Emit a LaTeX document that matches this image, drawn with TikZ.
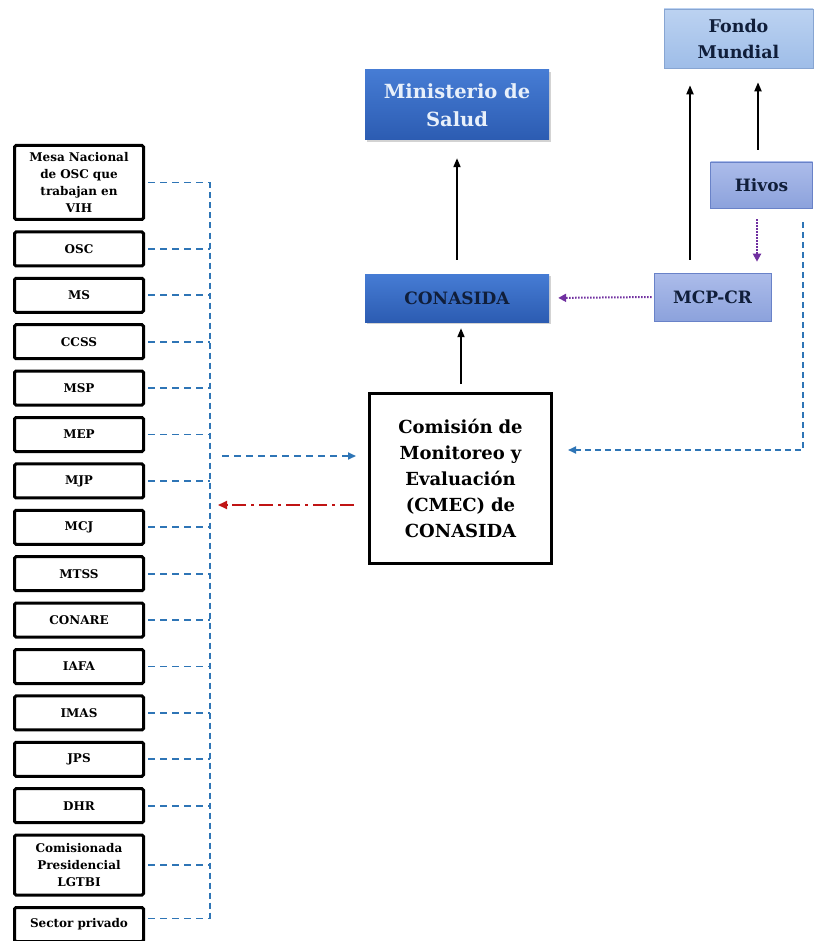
\documentclass[tikz,border=0pt]{standalone}
\usepackage{fontspec}
\setmainfont{DejaVu Serif}
\usetikzlibrary{arrows.meta,positioning,shadows}
\definecolor{minblueA}{RGB}{70,124,212}
\definecolor{minblueB}{RGB}{44,92,178}
\definecolor{fondoA}{RGB}{188,210,241}
\definecolor{fondoB}{RGB}{158,189,232}
\definecolor{fondoline}{RGB}{135,165,210}
\definecolor{mcpA}{RGB}{172,188,234}
\definecolor{mcpB}{RGB}{140,162,220}
\definecolor{mcpline}{RGB}{105,130,200}
\definecolor{lnblue}{RGB}{46,117,182}
\definecolor{lnred}{RGB}{192,20,20}
\definecolor{lnpurple}{RGB}{112,48,160}
\definecolor{navytext}{RGB}{16,30,58}
\definecolor{lighttext}{RGB}{232,240,250}

\begin{document}
\begin{tikzpicture}[x=1pt, y=1pt,
    orgbox/.style={rectangle, draw=black, line width=3pt, rounded corners=1.5pt, fill=white,
        minimum width=129pt, minimum height=34pt, text width=122pt, align=center, inner sep=1pt,
        font=\fontsize{12}{17}\selectfont\bfseries},
    darkbox/.style={rectangle, top color=minblueA, bottom color=minblueB, minimum width=184pt,
        align=center, inner sep=2pt,
        drop shadow={opacity=0.35, shadow xshift=1.5pt, shadow yshift=-2pt}},
    fondobox/.style={rectangle, top color=fondoA, bottom color=fondoB, draw=fondoline, line width=0.6pt,
        align=center, inner sep=2pt, text=navytext, font=\fontsize{17.5}{26}\selectfont\bfseries},
    mcpbox/.style={rectangle, top color=mcpA, bottom color=mcpB, draw=mcpline, line width=0.6pt,
        align=center, inner sep=2pt, text=navytext, font=\fontsize{17}{20}\selectfont\bfseries},
    arr/.style={-{Triangle[length=9pt,width=7pt]}, line width=1.8pt},
    bdash/.style={draw=lnblue, line width=1.8pt, dash pattern=on 7pt off 5pt},
    barr/.style={bdash, -{Triangle[length=8pt,width=7pt]}},
    rarr/.style={draw=lnred, line width=1.8pt, dash pattern=on 14pt off 5pt on 3pt off 5pt,
        -{Triangle[length=9pt,width=8pt]}},
    parr/.style={draw=lnpurple, line width=2pt, dash pattern=on 1.5pt off 1.5pt,
        -{Triangle[length=8pt,width=8pt]}},
    node distance=9.4pt
]
\useasboundingbox (0,0) rectangle (814,-941);

% organisations on the left
\node[orgbox, minimum height=74pt] (mesa) at (79,-182.5) {Mesa Nacional\\de OSC que\\trabajan en\\VIH};
\node[orgbox, below=of mesa] (osc) {OSC};
\node[orgbox, below=of osc] (ms) {MS};
\node[orgbox, below=of ms] (ccss) {CCSS};
\node[orgbox, below=of ccss] (msp) {MSP};
\node[orgbox, below=of msp] (mep) {MEP};
\node[orgbox, below=of mep] (mjp) {MJP};
\node[orgbox, below=of mjp] (mcj) {MCJ};
\node[orgbox, below=of mcj] (mtss) {MTSS};
\node[orgbox, below=of mtss] (conare) {CONARE};
\node[orgbox, below=of conare] (iafa) {IAFA};
\node[orgbox, below=of iafa] (imas) {IMAS};
\node[orgbox, below=of imas] (jps) {JPS};
\node[orgbox, below=of jps] (dhr) {DHR};
\node[orgbox, minimum height=60pt, below=of dhr] (lgtbi) {Comisionada\\Presidencial\\LGTBI};
\node[orgbox, below=of lgtbi] (privado) {Sector privado};
\coordinate (bus) at (210,0);

% central column
\node[darkbox, minimum height=70pt, text=lighttext, font=\fontsize{19.5}{28}\selectfont\bfseries]
    (minsa) at (457,-105) {Ministerio de\\Salud};
\node[darkbox, minimum height=48pt, text=navytext, font=\fontsize{17}{20}\selectfont\bfseries]
    (conasida) at (457,-298) {CONASIDA};
\node[rectangle, draw=black, line width=3pt, fill=white, minimum width=182pt, minimum height=170pt,
    text width=165pt, align=center, font=\fontsize{18}{26}\selectfont\bfseries]
    (cmec) at (460.5,-478.5) {Comisión de\\Monitoreo y\\Evaluación\\(CMEC) de\\CONASIDA};

% right column
\node[fondobox, minimum width=149pt, minimum height=59pt] (fondo) at (738.5,-38.5) {Fondo\\Mundial};
\node[mcpbox, minimum width=102pt, minimum height=46pt] (hivos) at (761.5,-185) {Hivos};
\node[mcpbox, minimum width=117pt, minimum height=48pt] (mcp) at (712.5,-297) {MCP-CR};

% solid arrows
\draw[arr, shorten <=8pt, shorten >=6pt] ([xshift=0.5pt]cmec.north) -- ([xshift=4pt]conasida.south);
\draw[arr, shorten <=14pt, shorten >=18pt] (conasida.north) -- (minsa.south);
\draw[arr, shorten <=13pt, shorten >=17pt] ([xshift=-22.5pt]mcp.north) -- ([xshift=-22.5pt]mcp.north |- fondo.south);
\draw[arr, shorten <=12pt, shorten >=14pt] ([xshift=-3.5pt]hivos.north) -- ([xshift=-3.5pt]hivos.north |- fondo.south);

% dotted arrows
\draw[parr, shorten <=11pt, shorten >=11pt] ([xshift=-4.5pt]hivos.south) -- ([xshift=-4.5pt]hivos.south |- mcp.north);
\draw[parr, shorten <=2pt, shorten >=9pt] (mcp.west) -- (conasida.east);

% dashed links
\draw[bdash] ([xshift=3pt]mesa.east) -- (mesa.east -| bus)
    ([xshift=3pt]osc.east) -- (osc.east -| bus)
    ([xshift=3pt]ms.east) -- (ms.east -| bus)
    ([xshift=3pt]ccss.east) -- (ccss.east -| bus)
    ([xshift=3pt]msp.east) -- (msp.east -| bus)
    ([xshift=3pt]mep.east) -- (mep.east -| bus)
    ([xshift=3pt]mjp.east) -- (mjp.east -| bus)
    ([xshift=3pt]mcj.east) -- (mcj.east -| bus)
    ([xshift=3pt]mtss.east) -- (mtss.east -| bus)
    ([xshift=3pt]conare.east) -- (conare.east -| bus)
    ([xshift=3pt]iafa.east) -- (iafa.east -| bus)
    ([xshift=3pt]imas.east) -- (imas.east -| bus)
    ([xshift=3pt]jps.east) -- (jps.east -| bus)
    ([xshift=3pt]dhr.east) -- (dhr.east -| bus)
    ([xshift=3pt]lgtbi.east) -- (lgtbi.east -| bus)
    ([xshift=3pt,yshift=6pt]privado.east) -- ([yshift=6pt]privado.east -| bus);
\draw[bdash, dash pattern=on 6pt off 4pt] (mesa.east -| bus) -- ([yshift=6pt]privado.east -| bus);
\draw[barr] ([xshift=12pt,yshift=22.5pt]cmec.west -| bus) -- ([xshift=-12pt,yshift=22.5pt]cmec.west);
\draw[rarr] ([xshift=-14pt,yshift=-26.5pt]cmec.west) -- ([xshift=8pt,yshift=-26.5pt]cmec.west -| bus);
\draw[barr, dash pattern=on 6pt off 4pt, shorten <=14pt, shorten >=15pt]
    ([xshift=41.5pt]hivos.south) |- ([yshift=28.5pt]cmec.east);
\end{tikzpicture}
\end{document}
